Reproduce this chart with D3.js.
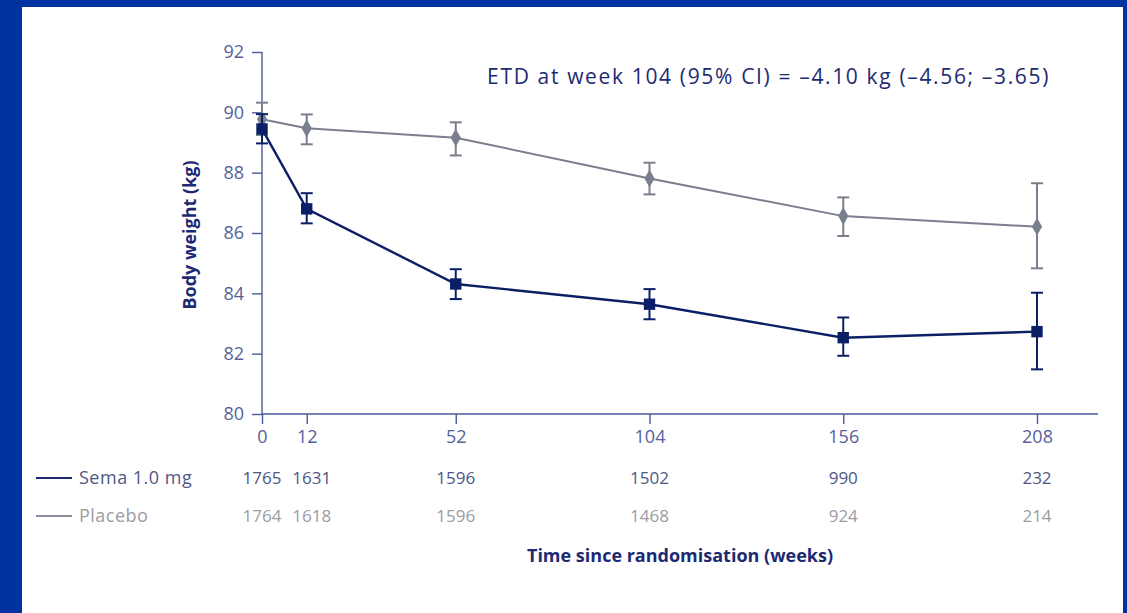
<!DOCTYPE html>
<meta charset="utf-8">
<head>
  <meta charset="utf-8">
  <title>Body weight over time</title>
</head>
<style>
body { margin: 0; background: #0033a0; }
.frame {
  position: absolute;
  left: 22px; top: 7px;
  width: 1101px; height: 606px;
  background: #fff;
}
svg { font-family: 'Open Sans', 'Noto Sans', sans-serif; }
.axis path, .axis line { stroke: #4b5a9c; stroke-width: 1.4; }
.axis text { fill: #56619a; font-size: 18px; font-family: 'Open Sans', sans-serif; }
</style>
<body>
<div class="frame"></div>
<script src="https://cdn.jsdelivr.net/npm/d3@7"></script>
<script>

// data
var weeks = [0, 12, 52, 104, 156, 208]
var semaMean = [89.45, 86.80, 84.31, 83.64, 82.53, 82.73]
var semaLow  = [88.97, 86.32, 83.81, 83.14, 81.93, 81.48]
var semaHigh = [89.94, 87.32, 84.80, 84.14, 83.20, 84.02]
var placeboMean = [89.77, 89.47, 89.16, 87.81, 86.56, 86.21]
var placeboLow  = [89.25, 88.94, 88.57, 87.28, 85.90, 84.83]
var placeboHigh = [90.32, 89.93, 89.67, 88.33, 87.18, 87.65]
var semaN = [1765, 1631, 1596, 1502, 990, 232]
var placeboN = [1764, 1618, 1596, 1468, 924, 214]
var yTicks = [80, 82, 84, 86, 88, 90, 92]

var width = 1127
var height = 613

var navy = '#0b1f66'
var grey = '#7a7f8e'

var svg = d3.select('body').append('svg')
    .attr('width', width)
    .attr('height', height)
    .style('position', 'absolute')
    .style('left', 0).style('top', 0)

var x = d3.scaleLinear().domain([0, 208]).range([262, 1037])
var y = d3.scaleLinear().domain([80, 92]).range([414, 52])

// y axis
svg.append('g')
    .attr('class', 'axis')
    .attr('transform', 'translate(262,0)')
    .call(d3.axisLeft(y).tickValues(yTicks).tickSize(10).tickSizeOuter(0).tickPadding(8))
    .call(function (g) { g.select('.domain').attr('d', 'M0,' + y(92) + 'V' + y(80)) })

// x axis
svg.append('g')
    .attr('class', 'axis')
    .attr('transform', 'translate(0,414)')
    .call(d3.axisBottom(x).tickValues(weeks).tickSize(10).tickSizeOuter(0).tickPadding(6))
    .call(function (g) { g.select('.domain').attr('d', 'M262,0H1098') })

svg.append('text')
    .attr('transform', 'translate(196,235) rotate(-90)')
    .attr('text-anchor', 'middle')
    .style('font-size', '18px')
    .style('font-weight', 'bold')
    .style('fill', '#1d2a72')
    .text('Body weight (kg)')

svg.append('text')
    .attr('x', 680).attr('y', 562)
    .attr('text-anchor', 'middle')
    .style('font-size', '18px')
    .style('font-weight', 'bold')
    .style('fill', '#1d2a72')
    .text('Time since randomisation (weeks)')

svg.append('text')
    .attr('x', 1050).attr('y', 84)
    .attr('text-anchor', 'end')
    .style('font-size', '21px')
    .style('letter-spacing', '1.65px')
    .style('fill', '#1d2a72')
    .text('ETD at week 104 (95% CI) = \u20134.10 kg (\u20134.56; \u20133.65)')

function drawSeries(mean, low, high, color, lw, shape) {
    var pts = weeks.map(function (w, i) {
        return { w: w, m: mean[i], lo: low[i], hi: high[i] }
    })
    var line = d3.line()
        .x(function (d) { return x(d.w) })
        .y(function (d) { return y(d.m) })
    svg.append('path')
        .datum(pts)
        .attr('d', line)
        .attr('fill', 'none')
        .attr('stroke', color)
        .attr('stroke-width', lw)

    var err = svg.append('g').selectAll('g')
        .data(pts)
        .enter().append('g')
        .attr('stroke', color)
        .attr('stroke-width', 2)
    err.append('line')
        .attr('x1', function (d) { return x(d.w) }).attr('x2', function (d) { return x(d.w) })
        .attr('y1', function (d) { return y(d.lo) }).attr('y2', function (d) { return y(d.hi) })
    err.append('line')
        .attr('x1', function (d) { return x(d.w) - 6 }).attr('x2', function (d) { return x(d.w) + 6 })
        .attr('y1', function (d) { return y(d.lo) }).attr('y2', function (d) { return y(d.lo) })
    err.append('line')
        .attr('x1', function (d) { return x(d.w) - 6 }).attr('x2', function (d) { return x(d.w) + 6 })
        .attr('y1', function (d) { return y(d.hi) }).attr('y2', function (d) { return y(d.hi) })

    svg.append('g').selectAll('path')
        .data(pts)
        .enter().append('path')
        .attr('transform', function (d) { return 'translate(' + x(d.w) + ',' + y(d.m) + ')' })
        .attr('d', shape)
        .attr('fill', color)
}

drawSeries(placeboMean, placeboLow, placeboHigh, grey, 2, d3.symbol().type(d3.symbolDiamond).size(90))
drawSeries(semaMean, semaLow, semaHigh, navy, 2.4, d3.symbol().type(d3.symbolSquare).size(130))

// number-at-risk table
var rows = [
    { name: 'Sema 1.0 mg', n: semaN, line: '#1d2a72', text: '#4e5784', y: 478 },
    { name: 'Placebo', n: placeboN, line: '#8a8f9c', text: '#9a9ca4', y: 516 }
]
rows.forEach(function (r) {
    svg.append('line')
        .attr('x1', 36).attr('x2', 72)
        .attr('y1', r.y).attr('y2', r.y)
        .attr('stroke', r.line)
        .attr('stroke-width', 2)
    svg.append('text')
        .attr('x', 79).attr('y', r.y + 6)
        .style('font-size', '18px')
        .style('letter-spacing', '0.5px')
        .style('fill', r.text)
        .text(r.name)
    svg.append('g').selectAll('text')
        .data(r.n)
        .enter().append('text')
        .attr('x', function (d, i) { return x(weeks[i]) + (i === 0 ? 0 : i === 1 ? 5 : 0) })
        .attr('y', r.y + 6)
        .attr('text-anchor', 'middle')
        .style('font-size', '17px')
        .style('fill', r.text)
        .text(function (d) { return d })
})

</script>
</body>
